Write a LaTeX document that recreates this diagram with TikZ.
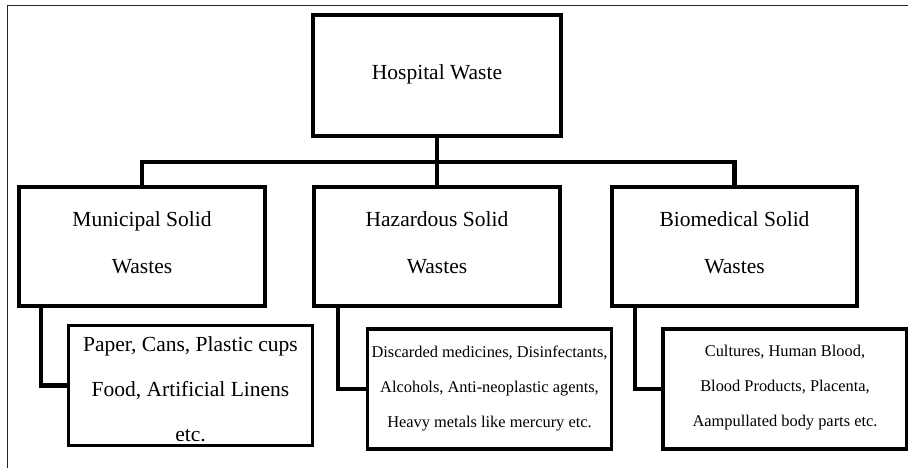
\documentclass[tikz,border=0pt]{standalone}
\usepackage{fontspec}
\setmainfont{Liberation Serif}
\begin{document}
\begin{tikzpicture}[x=1pt,y=-1pt,
  mainbox/.style={draw=black,line width=4.4pt,rectangle,inner sep=0pt},
  subbox/.style={draw=black,line width=3.5pt,rectangle,inner sep=0pt,
    minimum width=244pt,minimum height=120pt},
  maintext/.style={align=center,inner sep=0pt,font=\fontsize{21.5}{47}\selectfont},
  bigtext/.style={align=center,inner sep=0pt,font=\fontsize{21.5}{45}\selectfont},
  smalltext/.style={align=center,inner sep=0pt,font=\fontsize{16.4}{35}\selectfont},
  conn/.style={draw=black,line width=4.4pt,line cap=butt},
  frame/.style={draw=black!85,line width=1.1pt}]
\useasboundingbox (0,0) rectangle (908,468);
\coordinate (fl) at (7.5,468);
\coordinate (fc) at (7.5,5.5);
\coordinate (fr) at (908,5.5);
\draw[frame] (fl) -- (fc) -- (fr);

\node[mainbox,minimum width=248pt,minimum height=121pt] (hosp) at (437,75.5) {};
\node[mainbox,minimum width=246pt,minimum height=119pt] (mun) at (142,246.5) {};
\node[mainbox,minimum width=246pt,minimum height=119pt] (haz) at (437,246.5) {};
\node[mainbox,minimum width=245pt,minimum height=119pt] (bio) at (734.5,246.5) {};

\node[maintext] (hospT) at ([yshift=1pt]hosp.center) {Hospital Waste};
\node[maintext] (munT) at ([yshift=3.5pt]mun.center) {Municipal Solid\\Wastes};
\node[maintext] (hazT) at ([yshift=3.5pt]haz.center) {Hazardous Solid\\Wastes};
\node[maintext] (bioT) at ([yshift=3.5pt]bio.center) {Biomedical Solid\\Wastes};

\node[subbox] (paper) at (190.5,385.5) {};
\node[subbox] (hazc) at (489.5,389) {};
\node[subbox] (bioc) at (785,389) {};

\node[bigtext] (paperT) at ([yshift=-4pt]paper.center) {Paper, Cans, Plastic cups\\Food, Artificial Linens\\etc.};
\node[smalltext] (hazcT) at ([yshift=0.5pt]hazc.center) {Discarded medicines, Disinfectants,\\Alcohols, Anti-neoplastic agents,\\Heavy metals like mercury etc.};
\node[smalltext] (biocT) at ([yshift=1.5pt]bioc.center) {Cultures, Human Blood,\\Blood Products, Placenta,\\Aampullated body parts etc.};

\coordinate (bus) at (437,162);
\draw[conn] (hosp.south) -- (haz.north);
\draw[conn] (mun.north) |- (bus) -| (bio.north);

\draw[conn] ([xshift=24pt]mun.south west) |- (paper.west);
\draw[conn] ([xshift=26pt]haz.south west) |- (hazc.west);
\draw[conn] ([xshift=25pt]bio.south west) |- (bioc.west);
\end{tikzpicture}
\end{document}
